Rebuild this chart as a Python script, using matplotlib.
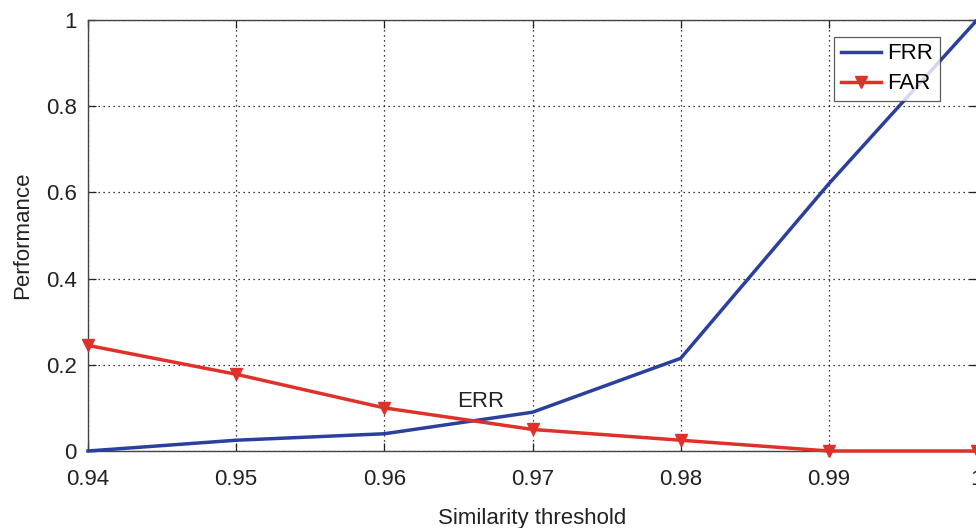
import numpy as np
import matplotlib.pyplot as plt

plt.rcParams['font.family'] = ['Liberation Sans', 'DejaVu Sans']

threshold = [0.94, 0.95, 0.96, 0.97, 0.98, 0.99, 1.00]
frr = [0.0, 0.025, 0.04, 0.09, 0.215, 0.62, 1.0]
far = [0.245, 0.178, 0.10, 0.05, 0.025, 0.0, 0.0]

xticks = [0.94, 0.95, 0.96, 0.97, 0.98, 0.99, 1.00]
xtick_labels = ['0.94', '0.95', '0.96', '0.97', '0.98', '0.99', '1']
yticks = [0, 0.2, 0.4, 0.6, 0.8, 1.0]
ytick_labels = ['0', '0.2', '0.4', '0.6', '0.8', '1']

fs = 16

fig = plt.figure(figsize=(9.76, 5.28), dpi=100)
ax = fig.add_axes([88 / 976, 77 / 528, 889 / 976, 431 / 528])

ax.plot(threshold, frr, color='#2b3f9c', lw=2.5, label='FRR', clip_on=False, zorder=3)
ax.plot(threshold, far, color='#e0302a', lw=2.5, marker='v', ms=9,
        label='FAR', clip_on=False, zorder=4)

ax.set_xlim(0.94, 1.0)
ax.set_ylim(0, 1)
ax.set_xticks(xticks)
ax.set_xticklabels(xtick_labels)
ax.set_yticks(yticks)
ax.set_yticklabels(ytick_labels)
ax.tick_params(direction='in', top=True, right=True, length=6, width=0.9,
               labelsize=fs, colors='#222222')
ax.tick_params(axis='x', pad=13)
ax.tick_params(axis='y', pad=8)
ax.grid(True, color='black', linestyle=(0, (1, 3)), lw=0.9)
for sp in ax.spines.values():
    sp.set_color('#444444')
    sp.set_linewidth(1.0)

ax.set_xlabel('Similarity threshold', fontsize=fs, labelpad=13, color='#222222')
ax.set_ylabel('Performance', fontsize=fs, labelpad=9, color='#222222')
ax.text(0.9665, 0.114, 'ERR', fontsize=fs, ha='center', va='center', color='#222222')

leg = ax.legend(loc='upper right', bbox_to_anchor=(0.9585, 0.961), fontsize=fs,
                frameon=True, fancybox=False, edgecolor='#333333',
                handlelength=1.8, handletextpad=0.3, borderpad=0.3,
                labelspacing=0.4, borderaxespad=0)
leg.get_frame().set_linewidth(0.9)

fig.savefig('out.png', dpi=100)
